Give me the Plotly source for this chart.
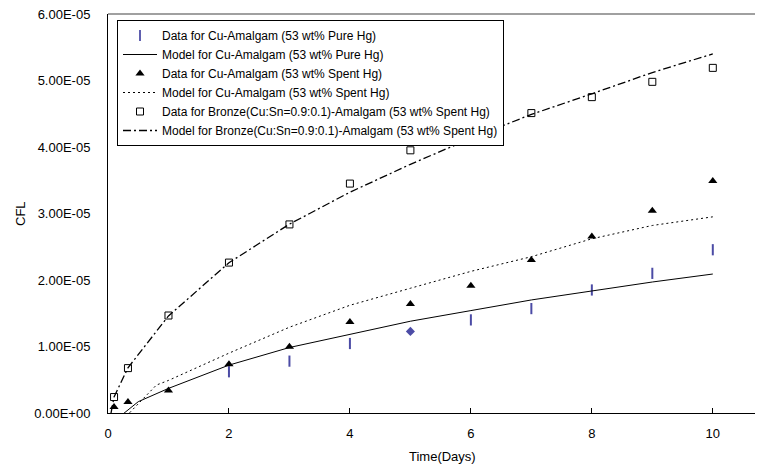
import plotly.graph_objects as go

# ---------------- data ----------------
days_pure = [2, 3, 4, 5, 6, 7, 8, 9, 10]
cfl_pure = [0.62e-5, 0.78e-5, 1.045e-5, 1.227e-5, 1.40e-5, 1.57e-5, 1.85e-5, 2.10e-5, 2.455e-5]
pure_symbols = ["line-ns", "line-ns", "line-ns", "diamond", "line-ns", "line-ns", "line-ns", "line-ns", "line-ns"]

model_pure_x = [0.2, 0.5, 1, 2, 3, 4, 5, 6, 7, 8, 9, 10]
model_pure_y = [-0.05e-5, 0.17e-5, 0.37e-5, 0.72e-5, 0.985e-5, 1.18e-5, 1.38e-5, 1.54e-5, 1.70e-5, 1.835e-5, 1.97e-5, 2.09e-5]

days_spent = [0.1, 0.33, 1, 2, 3, 4, 5, 6, 7, 8, 9, 10]
cfl_spent = [0.09e-5, 0.165e-5, 0.34e-5, 0.733e-5, 0.995e-5, 1.367e-5, 1.64e-5, 1.915e-5, 2.30e-5, 2.656e-5, 3.04e-5, 3.487e-5]

model_spent_x = [0.3, 0.8, 1, 2, 3, 4, 5, 6, 7, 8, 9, 10]
model_spent_y = [-0.05e-5, 0.42e-5, 0.49e-5, 0.90e-5, 1.29e-5, 1.62e-5, 1.876e-5, 2.13e-5, 2.35e-5, 2.62e-5, 2.82e-5, 2.95e-5]

days_bronze = [0.1, 0.33, 1, 2, 3, 4, 5, 6, 7, 8, 9, 10]
cfl_bronze = [0.24e-5, 0.675e-5, 1.466e-5, 2.262e-5, 2.836e-5, 3.45e-5, 3.95e-5, 4.29e-5, 4.51e-5, 4.75e-5, 4.98e-5, 5.19e-5]

model_bronze_x = [0.05, 0.1, 0.33, 1, 2, 3, 4, 5, 6, 7, 8, 9, 10]
model_bronze_y = [0.0, 0.24e-5, 0.68e-5, 1.46e-5, 2.26e-5, 2.84e-5, 3.32e-5, 3.74e-5, 4.13e-5, 4.49e-5, 4.80e-5, 5.12e-5, 5.40e-5]

y_tickvals = [0, 1e-5, 2e-5, 3e-5, 4e-5, 5e-5, 6e-5]
y_ticktext = ["0.00E+00", "1.00E-05", "2.00E-05", "3.00E-05", "4.00E-05", "5.00E-05", "6.00E-05"]
x_tickvals = [0, 2, 4, 6, 8, 10]

names = [
    "Data for Cu-Amalgam (53 wt% Pure Hg)",
    "Model for Cu-Amalgam (53 wt% Pure Hg)",
    "Data for Cu-Amalgam (53 wt% Spent Hg)",
    "Model for Cu-Amalgam (53 wt% Spent Hg)",
    "Data for Bronze(Cu:Sn=0.9:0.1)-Amalgam (53 wt% Spent Hg)",
    "Model for Bronze(Cu:Sn=0.9:0.1)-Amalgam (53 wt% Spent Hg)",
]

FONT = "Liberation Sans, Arial, sans-serif"
NAVY = "#000080"

# the page body keeps its default 8px margin, so the figure is drawn 8px in
OFF = 8
W, H = 763 - OFF, 466 - OFF
ML, MR, MT, MB = 108 - OFF, 0, 14 - OFF, 466 - 413
plot_w = W - ML - MR
plot_h = H - MT - MB


def px_x(page_x):
    return (page_x - OFF - ML) / plot_w


def px_y(page_y):
    return 1 - (page_y - OFF - MT) / plot_h


fig = go.Figure()
fig.add_trace(go.Scatter(
    x=days_pure, y=cfl_pure, mode="markers", name=names[0],
    marker=dict(symbol=pure_symbols, size=[8 if s == "line-ns" else 7 for s in pure_symbols],
                color=NAVY,
                line=dict(color=NAVY, width=[2 if s == "line-ns" else 0 for s in pure_symbols])),
))
fig.add_trace(go.Scatter(
    x=model_pure_x, y=model_pure_y, mode="lines", name=names[1],
    line=dict(color="black", width=1),
))
fig.add_trace(go.Scatter(
    x=days_spent, y=cfl_spent, mode="markers", name=names[2],
    marker=dict(symbol="triangle-up", size=8, color="black"),
))
fig.add_trace(go.Scatter(
    x=model_spent_x, y=model_spent_y, mode="lines", name=names[3],
    line=dict(color="black", width=1, dash="2px,3px"),
))
fig.add_trace(go.Scatter(
    x=days_bronze, y=cfl_bronze, mode="markers", name=names[4],
    marker=dict(symbol="square-open", size=7, color="black", line=dict(color="black", width=1)),
))
fig.add_trace(go.Scatter(
    x=model_bronze_x, y=model_bronze_y, mode="lines", name=names[5],
    line=dict(color="black", width=1.3, dash="8px,3px,2px,3px"),
))

fig.update_layout(
    width=W, height=H,
    margin=dict(l=ML, r=MR, t=MT, b=MB),
    paper_bgcolor="white", plot_bgcolor="white",
    font=dict(family=FONT, size=13, color="black"),
    showlegend=True,
    legend=dict(
        x=px_x(117), y=px_y(20), xanchor="left", yanchor="top",
        bordercolor="black", borderwidth=1, bgcolor="white",
        font=dict(family=FONT, size=12, color="black"),
        tracegroupgap=0, itemwidth=34,
    ),
    xaxis=dict(
        range=[0, 10.83], tickvals=x_tickvals,
        showgrid=False, zeroline=False,
        showline=True, linecolor="black", linewidth=1,
        ticks="inside", ticklen=5, tickcolor="black",
        ticklabelstandoff=8, ticklabeloverflow="allow",
        tickfont=dict(family=FONT, size=13),
    ),
    yaxis=dict(
        range=[0, 6e-5], tickvals=y_tickvals, ticktext=y_ticktext,
        showgrid=False, zeroline=False,
        showline=True, linecolor="black", linewidth=1,
        ticks="",
        ticklabelstandoff=14, ticklabeloverflow="allow",
        tickfont=dict(family=FONT, size=13),
    ),
    shapes=[dict(type="line", xref="paper", yref="paper", x0=0, x1=1, y0=1, y1=1,
                 line=dict(color="#808080", width=1.5))],
    annotations=[
        dict(text="Time(Days)", xref="paper", yref="paper",
             x=px_x(442), y=px_y(456),
             xanchor="center", yanchor="middle", showarrow=False, borderpad=0,
             font=dict(family=FONT, size=13)),
        dict(text="CFL", xref="paper", yref="paper", textangle=-90,
             x=px_x(20), y=px_y(214),
             xanchor="center", yanchor="middle", showarrow=False,
             font=dict(family=FONT, size=13)),
    ],
)

fig.write_html("out.html")
